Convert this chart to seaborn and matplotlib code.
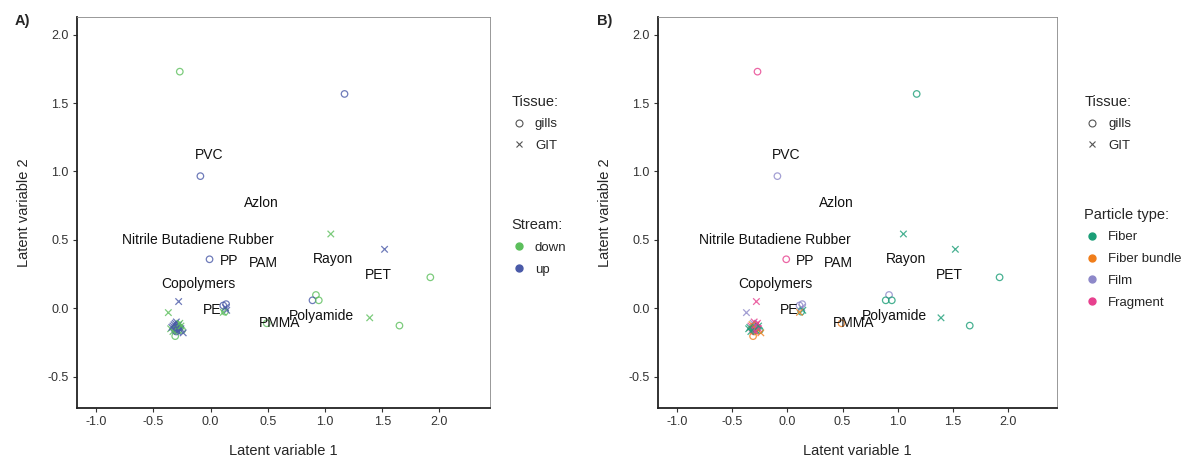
import pandas as pd
import seaborn as sns
import matplotlib.pyplot as plt
from matplotlib.lines import Line2D

sns.set_style('white')
plt.rcParams['font.family'] = ['Liberation Sans', 'DejaVu Sans']

# latent variable scores
lv1 = [-0.27, 1.17, -0.09, 1.05, 1.52, -0.01, 1.92, -0.28, -0.37, 0.92, 0.89, 0.945, 0.49, 1.39, 1.65,
       0.11, 0.135, 0.13, 0.14, 0.11, 0.125,
       -0.31, -0.30, -0.28, -0.33, -0.26, -0.31, -0.29, -0.30, -0.27, -0.32, -0.31, -0.29,
       -0.35, -0.26, -0.33, -0.30, -0.28, -0.25, -0.24, -0.32, -0.30, -0.27, -0.29, -0.34, -0.31, -0.285]
lv2 = [1.73, 1.567, 0.966, 0.543, 0.431, 0.358, 0.226, 0.049, -0.032, 0.097, 0.058, 0.058, -0.11, -0.07, -0.127,
       0.02, 0.03, 0.005, -0.015, -0.03, -0.025,
       -0.204, -0.10, -0.12, -0.13, -0.15, -0.16, -0.17, -0.13, -0.14, -0.15, -0.11, -0.14,
       -0.15, -0.13, -0.17, -0.15, -0.16, -0.16, -0.18, -0.12, -0.17, -0.11, -0.12, -0.14, -0.14, -0.145]
tissue = ['gills', 'gills', 'gills', 'GIT', 'GIT', 'gills', 'gills', 'GIT', 'GIT', 'gills', 'gills', 'gills', 'gills', 'GIT', 'gills',
          'gills', 'gills', 'GIT', 'GIT', 'GIT', 'gills',
          'gills', 'GIT', 'GIT', 'GIT', 'GIT', 'GIT', 'GIT', 'gills', 'gills', 'gills', 'GIT', 'gills',
          'GIT', 'GIT', 'GIT', 'gills', 'gills', 'gills', 'GIT', 'GIT', 'gills', 'GIT', 'gills', 'GIT', 'gills', 'gills']
stream = ['down', 'up', 'up', 'down', 'up', 'up', 'down', 'up', 'down', 'down', 'up', 'down', 'down', 'down', 'down',
          'up', 'up', 'up', 'up', 'down', 'down',
          'down', 'up', 'up', 'up', 'up', 'up', 'up', 'up', 'up', 'up', 'up', 'up',
          'down', 'down', 'down', 'down', 'down', 'down', 'up', 'up', 'up', 'down', 'down', 'up', 'up', 'up']
particle = ['Fragment', 'Fiber', 'Film', 'Fiber', 'Fiber', 'Fragment', 'Fiber', 'Fragment', 'Film', 'Film', 'Fiber', 'Fiber', 'Fiber bundle', 'Fiber', 'Fiber',
            'Film', 'Film', 'Film', 'Fiber', 'Fiber bundle', 'Fiber',
            'Fiber bundle', 'Fragment', 'Fragment', 'Fragment', 'Fragment', 'Fragment', 'Fragment', 'Fragment', 'Fragment', 'Fragment', 'Film', 'Film',
            'Fiber', 'Fiber', 'Fiber', 'Fiber', 'Fiber', 'Fiber', 'Fiber bundle', 'Fiber bundle', 'Fiber bundle', 'Fragment', 'Fragment', 'Fiber', 'Fiber', 'Fiber']

polymers = ['PVC', 'Azlon', 'Nitrile Butadiene Rubber', 'PP', 'PAM', 'Rayon', 'PET', 'Copolymers', 'PE', 'PMMA', 'Polyamide']
poly_x = [-0.015, 0.44, -0.11, 0.165, 0.46, 1.07, 1.47, -0.105, 0.015, 0.60, 0.97]
poly_y = [1.12, 0.766, 0.50, 0.348, 0.33, 0.36, 0.24, 0.18, -0.012, -0.11, -0.056]

df = pd.DataFrame({'lv1': lv1, 'lv2': lv2, 'tissue': tissue, 'stream': stream, 'particle': particle})

stream_pal = {'down': '#5cbf5c', 'up': '#4a5aa8'}
particle_pal = {'Fiber': '#1b9e77', 'Fiber bundle': '#f07d1a', 'Film': '#8d88c9', 'Fragment': '#e7408e'}

fig = plt.figure(figsize=(11.82, 4.58), dpi=100)
axA = fig.add_axes([0.065, 0.109, 0.3494, 0.854])
axB = fig.add_axes([0.5567, 0.109, 0.3376, 0.854])


def draw_panel(ax, hue, pal):
    gills = df[df['tissue'] == 'gills']
    git = df[df['tissue'] == 'GIT']
    sns.scatterplot(data=gills, x='lv1', y='lv2', hue=hue, palette=pal, marker='o',
                    s=22, alpha=0.8, legend=False, ax=ax)
    coll = ax.collections[-1]
    fc = coll.get_facecolors()
    coll.set_edgecolors(fc)
    coll.set_facecolors('none')
    coll.set_linewidth(0.9)
    sns.scatterplot(data=git, x='lv1', y='lv2', hue=hue, palette=pal, marker='x',
                    s=22, alpha=0.8, linewidth=0.9, legend=False, ax=ax)
    for name, px, py in zip(polymers, poly_x, poly_y):
        ax.text(px, py, name, ha='center', va='center', fontsize=10, color='#111111')
    ax.set_xlim(-1.17, 2.44)
    ax.set_ylim(-0.73, 2.13)
    ax.set_xticks([-1.0, -0.5, 0.0, 0.5, 1.0, 1.5, 2.0])
    ax.set_yticks([-0.5, 0.0, 0.5, 1.0, 1.5, 2.0])
    ax.set_xticklabels(['-1.0', '-0.5', '0.0', '0.5', '1.0', '1.5', '2.0'])
    ax.set_yticklabels(['-0.5', '0.0', '0.5', '1.0', '1.5', '2.0'])
    ax.tick_params(axis='both', direction='out', length=3, width=0.8, color='#333333',
                   labelsize=9, labelcolor='#333333', bottom=True, left=True, pad=3)
    for side in ['left', 'bottom']:
        ax.spines[side].set_linewidth(1.3)
        ax.spines[side].set_color('#222222')
    for side in ['top', 'right']:
        ax.spines[side].set_linewidth(0.6)
        ax.spines[side].set_color('#888888')
    ax.set_xlabel('Latent variable 1', fontsize=10.5, labelpad=11)
    ax.set_ylabel('Latent variable 2', fontsize=10.5, labelpad=12)


draw_panel(axA, 'stream', stream_pal)
draw_panel(axB, 'particle', particle_pal)

fig.text(0.012, 0.955, 'A)', fontsize=10.5, fontweight='bold', va='center')
fig.text(0.505, 0.955, 'B)', fontsize=10.5, fontweight='bold', va='center')


def tissue_handles():
    return [Line2D([], [], marker='o', ls='none', mfc='none', mec='#555555', ms=5, mew=0.8, label='gills'),
            Line2D([], [], marker='x', ls='none', color='#555555', ms=5, mew=0.8, label='GIT')]


def color_handles(pal):
    return [Line2D([], [], marker='o', ls='none', color=c, ms=5, label=k) for k, c in pal.items()]


leg_kw = dict(frameon=False, fontsize=9.5, title_fontsize=10.5, alignment='left',
              handletextpad=0.6, labelspacing=0.72, borderaxespad=0, handlelength=1.2)

fig.legend(handles=tissue_handles(), title='Tissue:', loc='upper left',
           bbox_to_anchor=(0.428, 0.805), **leg_kw)
fig.legend(handles=color_handles(stream_pal), title='Stream:', loc='upper left',
           bbox_to_anchor=(0.428, 0.535), **leg_kw)
fig.legend(handles=tissue_handles(), title='Tissue:', loc='upper left',
           bbox_to_anchor=(0.913, 0.805), **leg_kw)
fig.legend(handles=color_handles(particle_pal), title='Particle type:', loc='upper left',
           bbox_to_anchor=(0.913, 0.558), **leg_kw)

fig.savefig('out.png', dpi=100)
